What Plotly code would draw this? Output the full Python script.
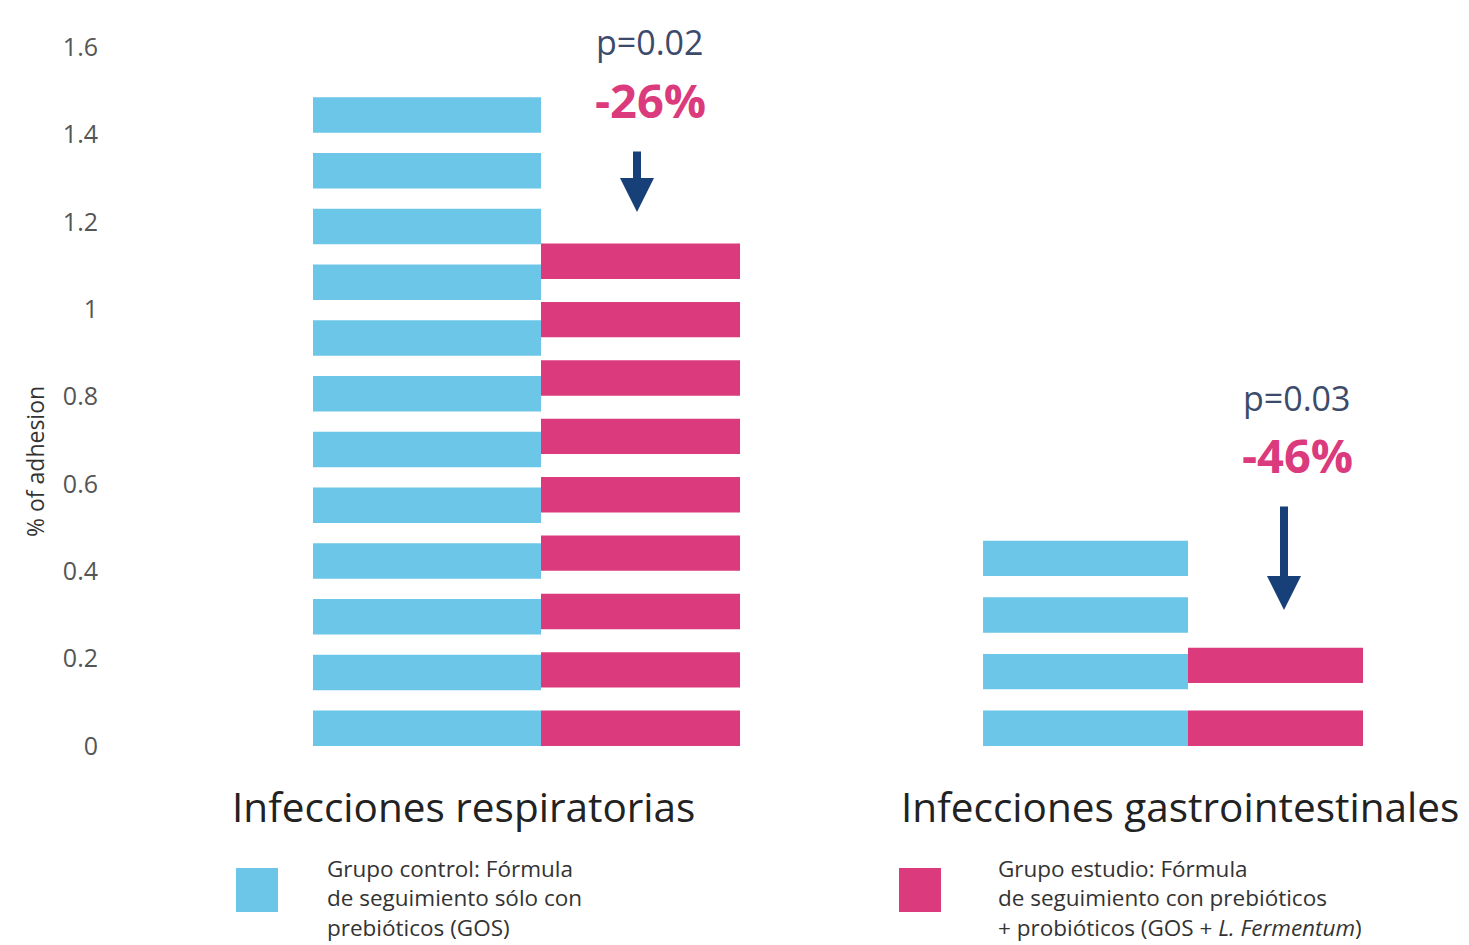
import numpy as np
import plotly.graph_objects as go

# ---- data ----
categories = ["Infecciones respiratorias", "Infecciones gastrointestinales"]
control_values = [1.485, 0.47]   # Grupo control
study_values = [1.15, 0.225]     # Grupo estudio
p_values = ["p=0.02", "p=0.03"]
reductions = ["-26%", "-46%"]
y_ticks = [0, 0.2, 0.4, 0.6, 0.8, 1, 1.2, 1.4, 1.6]
y_ticktext = ["0", "0.2", "0.4", "0.6", "0.8", "1", "1.2", "1.4", "1.6"]

# ---- style ----
BLUE = "#6CC6E7"
PINK = "#DB3A7C"
NAVY = "#173F78"
PTXT = "#3C4B6B"
FONT = "Open Sans"
W, H = 1469, 945
L, T, B = 120, 47, 199
PLOT_W = W - L
PLOT_H = H - T - B

STRIPE_UNIT = 0.122   # spacing unit used to split a bar into stripes
STRIPE_T = 0.081      # stripe thickness (data units)

cat_pos = [0, 1]
x_range = [-0.6507, 1.4343]
ctrl_offset = [-0.3524, -0.3168]
ctrl_width = [0.3524, 0.3168]
study_offset = [0.0, 0.0]
study_width = [0.3076, 0.2705]


def stripes(values, offsets, widths):
    xs, bases, ys, offs, wids = [], [], [], [], []
    for xc, v, o, w in zip(cat_pos, values, offsets, widths):
        n = max(int(round(v / STRIPE_UNIT)), 1)
        for b in np.linspace(0, v - STRIPE_T, n):
            xs.append(xc)
            bases.append(b)
            ys.append(STRIPE_T)
            offs.append(o)
            wids.append(w)
    return xs, bases, ys, offs, wids


fig = go.Figure()
for vals, offs, wids, col, name in [
    (control_values, ctrl_offset, ctrl_width, BLUE, "control"),
    (study_values, study_offset, study_width, PINK, "estudio"),
]:
    xs, bases, ys, o, w = stripes(vals, offs, wids)
    fig.add_trace(go.Bar(x=xs, y=ys, base=bases, offset=o, width=w,
                         marker=dict(color=col, line=dict(width=0)),
                         name=name, showlegend=False, hoverinfo="skip"))


def xp(px):
    return (px - L) / PLOT_W


def yp(py):
    return (H - B - py) / PLOT_H


ann = []
# category labels
for txt, cx in zip(categories, [463, 1180]):
    ann.append(dict(text=txt, x=xp(cx), y=yp(806), xref="paper", yref="paper",
                    showarrow=False, xanchor="center", yanchor="middle",
                    font=dict(family=FONT, size=40.5, color="#222222")))
# p-values, reductions, arrows
for pv, red, cx, py, ry, ax, a_top, a_tip in [
    (p_values[0], reductions[0], 650, 42, 100, 637, 150, 212),
    (p_values[1], reductions[1], 1297, 398, 455, 1284, 505, 610),
]:
    ann.append(dict(text=pv, x=xp(cx), y=yp(py), xref="paper", yref="paper",
                    showarrow=False, xanchor="center", yanchor="middle",
                    font=dict(family=FONT, size=34, color=PTXT)))
    ann.append(dict(text="<b>" + red + "</b>", x=xp(cx), y=yp(ry), xref="paper", yref="paper",
                    showarrow=False, xanchor="center", yanchor="middle",
                    font=dict(family=FONT, size=47, color=PINK)))
    ann.append(dict(text="", x=xp(ax), y=yp(a_tip), xref="paper", yref="paper",
                    showarrow=True, ax=0, ay=-(a_tip - a_top), axref="pixel", ayref="pixel",
                    arrowhead=2, arrowwidth=8, arrowsize=0.85, arrowcolor=NAVY, standoff=0))
# y-axis title
ann.append(dict(text="% of adhesion", x=xp(35), y=yp(462), xref="paper", yref="paper",
                showarrow=False, textangle=-90, xanchor="center", yanchor="middle",
                font=dict(family=FONT, size=23, color="#333333")))
# legend texts
ann.append(dict(text="Grupo control: Fórmula<br>de seguimiento sólo con<br>prebióticos (GOS)",
                x=xp(325), y=yp(851), xref="paper", yref="paper", showarrow=False,
                xanchor="left", yanchor="top", align="left",
                font=dict(family=FONT, size=22.5, color="#333333")))
ann.append(dict(text="Grupo estudio: Fórmula<br>de seguimiento con prebióticos<br>+ probióticos (GOS + <i>L. Fermentum</i>)",
                x=xp(996), y=yp(851), xref="paper", yref="paper", showarrow=False,
                xanchor="left", yanchor="top", align="left",
                font=dict(family=FONT, size=22.5, color="#333333")))

shapes = [
    dict(type="rect", xref="paper", yref="paper", x0=xp(236), x1=xp(278), y0=yp(912), y1=yp(868),
         fillcolor=BLUE, line=dict(width=0)),
    dict(type="rect", xref="paper", yref="paper", x0=xp(899), x1=xp(941), y0=yp(912), y1=yp(868),
         fillcolor=PINK, line=dict(width=0)),
]

fig.update_layout(
    width=W, height=H,
    margin=dict(l=L, r=0, t=T, b=B),
    paper_bgcolor="white", plot_bgcolor="white",
    barmode="overlay",
    xaxis=dict(range=x_range, showgrid=False, zeroline=False, showticklabels=False,
               showline=False, ticks=""),
    yaxis=dict(range=[0, 1.6], tickvals=y_ticks, ticktext=y_ticktext, showgrid=False,
               zeroline=False, showline=False, ticks="outside", ticklen=16,
               tickcolor="rgba(0,0,0,0)",
               tickfont=dict(family=FONT, size=25, color="#555555")),
    annotations=ann,
    shapes=shapes,
)

fig.write_html("out.html")
